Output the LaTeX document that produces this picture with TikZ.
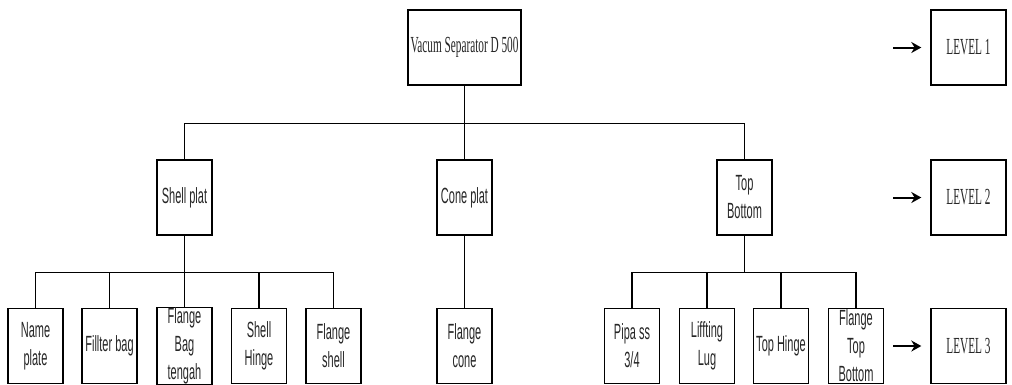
\documentclass[tikz,border=0pt]{standalone}
\usepackage{fontspec}
\newfontfamily\partsans[FakeStretch=0.5]{Liberation Sans}
\newfontfamily\partserif[FakeStretch=0.49]{Liberation Serif}
\usetikzlibrary{arrows.meta}
\tikzset{
    part/.style={
        shape=rectangle, draw, line width=1.4pt, align=center, inner sep=0pt,
        minimum width=55pt, minimum height=75pt, text=black!85,
        font=\partsans\fontsize{22}{28}\selectfont
    },
    root part/.style={
        part, minimum width=113pt,
        font=\partserif\fontsize{23}{28}\selectfont
    },
    level box/.style={
        part, minimum width=75pt,
        font=\partserif\fontsize{23}{28}\selectfont
    },
    level arrow/.style={
        -{Stealth[length=10pt,width=11pt]}, line width=2pt, shorten >=9pt
    },
    tree/.style={line width=1.4pt},
}

\begin{document}
\begin{tikzpicture}[x=1pt,y=-1pt]
    \useasboundingbox (0,0) rectangle (1012,384);
    % level 1
    \node[root part] (vacum) at (464.5,47.5) {Vacum Separator D 500};
    % level 2
    \node[part] (shell) at (184.5,197.5) {Shell plat};
    \node[part] (cone) at (464.5,197.5) {Cone plat};
    \node[part] (topbottom) at (744.5,197.5) {Top\\Bottom};
    % level 3
    \node[part] (name) at (35.5,346) {Name\\plate};
    \node[part] (fillter) at (109.5,346) {Fillter bag};
    \node[part] (tengah) at (184.5,346) {Flange\\Bag\\tengah};
    \node[part] (shellhinge) at (259,346) {Shell\\Hinge};
    \node[part] (flangeshell) at (333.5,346) {Flange\\shell};
    \node[part] (flangecone) at (464.5,346) {Flange\\cone};
    \node[part] (pipa) at (632,346) {Pipa ss\\3/4};
    \node[part] (lug) at (707,346) {Liffting\\Lug};
    \node[part] (tophinge) at (781,346) {Top Hinge};
    \node[part] (flangetop) at (856,346) {Flange\\Top\\Bottom};

    \draw[tree] (vacum.south) -- ++(0,37.5) coordinate (bus-1);
    \foreach \n in {shell,cone,topbottom}
        \draw[tree] (bus-1) -| (\n.north);

    \draw[tree] (shell.south) -- ++(0,37) coordinate (bus-2);
    \foreach \n in {name,fillter,tengah,shellhinge,flangeshell}
        \draw[tree] (bus-2) -| (\n.north);

    \draw[tree] (cone) -- (flangecone);

    \draw[tree] (topbottom.south) -- ++(0,37) coordinate (bus-3);
    \foreach \n in {pipa,lug,tophinge,flangetop}
        \draw[tree] (bus-3) -| (\n.north);

    % levels
    \foreach \i/\y in {1/47.5,2/197.5,3/346} {
        \node[level box] (level-\i) at (968.5,\y) {LEVEL \i};
        \coordinate (arrow-\i) at (893,\y);
        \draw[level arrow] (arrow-\i) -- (level-\i);
    }
\end{tikzpicture}
\end{document}
